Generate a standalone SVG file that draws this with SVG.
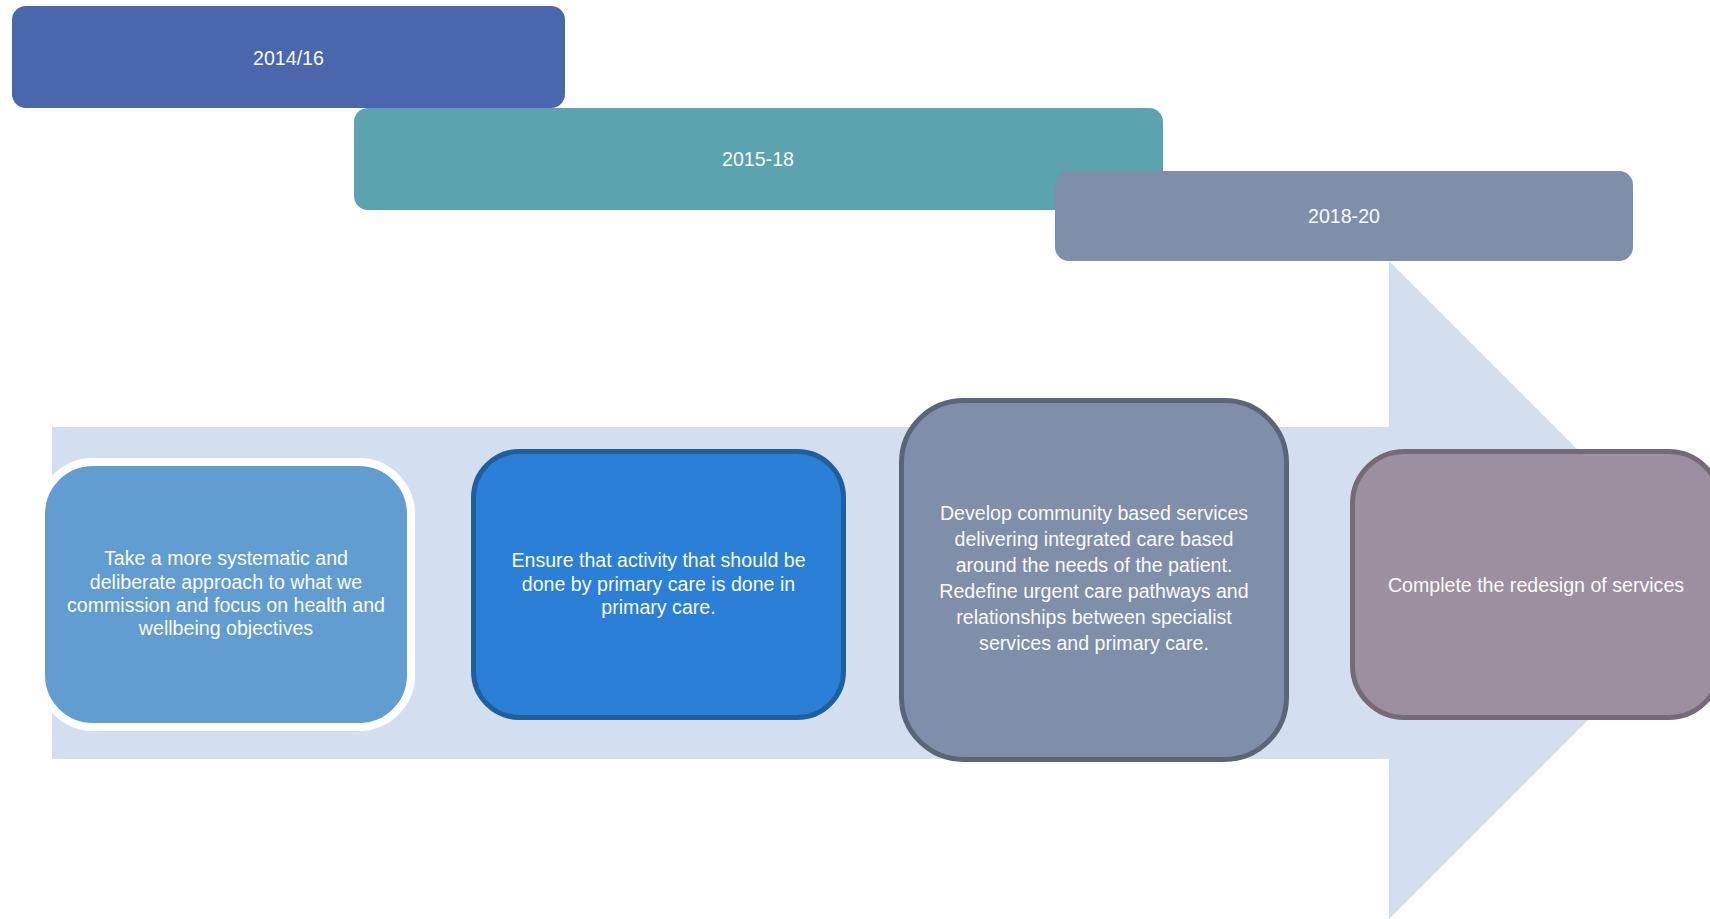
<svg xmlns="http://www.w3.org/2000/svg" width="1710" height="919" viewBox="0 0 1710 919">
<style>
.t{font-family:"Liberation Sans",Arial,sans-serif;font-size:19.6px;fill:#FAFAFA;text-anchor:middle}
</style>
<rect width="1710" height="919" fill="#FFFFFF"/>
<g id="arrow">
<polygon points="52,427 1389,427 1389,261 1718,590 1389,919 1389,759 52,759" fill="#D3DFEE"/>
</g>
<g id="period-2014-16">
<rect x="12" y="6" width="553" height="102" rx="14" fill="#4A66AC"/>
<text class="t" x="288.5" y="64.5">2014/16</text>
</g>
<g id="period-2015-18">
<rect x="354" y="108" width="809" height="102" rx="14" fill="#5BA3AF"/>
<text class="t" x="758" y="166">2015-18</text>
</g>
<g id="period-2018-20">
<rect x="1055" y="171" width="578" height="90" rx="14" fill="#7F8EA9"/>
<text class="t" x="1344" y="223">2018-20</text>
</g>
<g id="connectors"></g>
<g id="step1">
<rect x="41" y="462" width="370" height="265" rx="52" fill="#629DD1" stroke="#FFFFFF" stroke-width="8"/>
<text class="t" x="226"><tspan x="226" y="565">Take a more systematic and</tspan><tspan x="226" y="589">deliberate approach to what we</tspan><tspan x="226" y="612">commission and focus on health and</tspan><tspan x="226" y="635">wellbeing objectives</tspan></text>
</g>
<g id="step2">
<rect x="473.5" y="451.5" width="370" height="266" rx="46" fill="#2A7FD6" stroke="#1F5F9E" stroke-width="5"/>
<text class="t" x="658.5"><tspan x="658.5" y="567">Ensure that activity that should be</tspan><tspan x="658.5" y="591">done by primary care is done in</tspan><tspan x="658.5" y="614">primary care.</tspan></text>
</g>
<g id="step3">
<rect x="901.5" y="400.5" width="385" height="359" rx="62" fill="#7F8EA9" stroke="#5B6578" stroke-width="5"/>
<text class="t" x="1094"><tspan x="1094" y="520">Develop community based services</tspan><tspan x="1094" y="546">delivering integrated care based</tspan><tspan x="1094" y="572">around the needs of the patient.</tspan><tspan x="1094" y="598">Redefine urgent care pathways and</tspan><tspan x="1094" y="624">relationships between specialist</tspan><tspan x="1094" y="650">services and primary care.</tspan></text>
</g>
<g id="step4">
<rect x="1352.5" y="451.5" width="368" height="266" rx="52" fill="#9C8FA0" stroke="#756A78" stroke-width="5"/>
<text class="t" x="1536" y="592">Complete the redesign of services</text>
</g>
</svg>
